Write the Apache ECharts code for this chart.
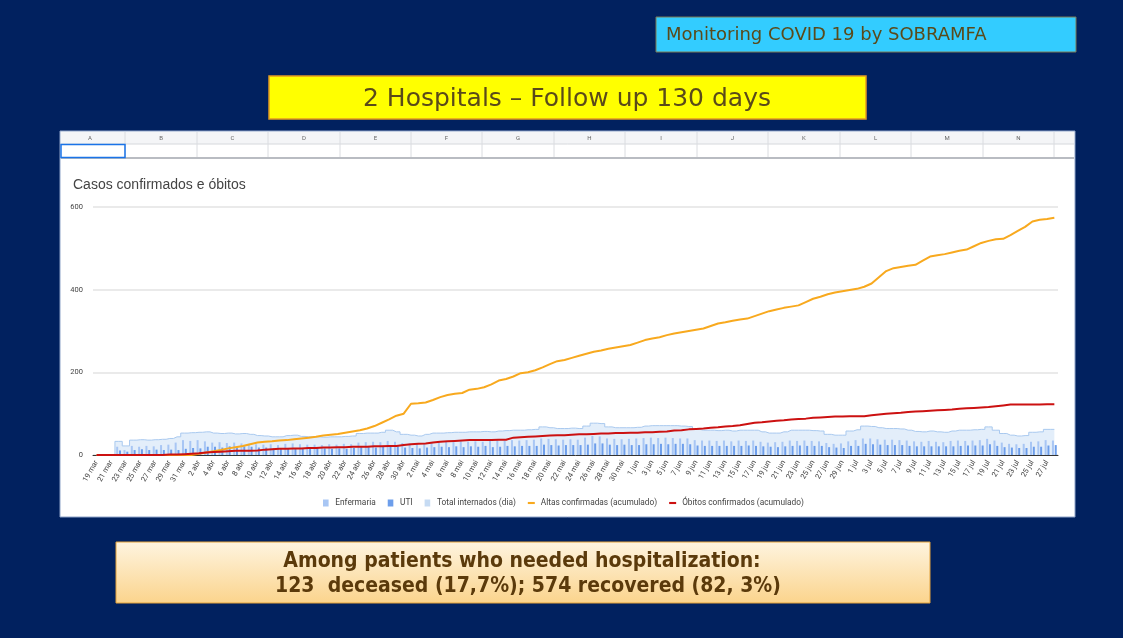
<!DOCTYPE html>
<html>
<head>
<meta charset="utf-8">
<script src="https://cdn.jsdelivr.net/npm/echarts@6/dist/echarts.min.js"></script>
<style>
  html, body { margin: 0; padding: 0; background: #01215f; }
  #main { width: 1123px; height: 638px; }
</style>
</head>
<body>
<div id="main"></div>
<script>
// months shown on the axis (19 mar .. 28 jul)
var months = [['mar', 19, 31], ['abr', 1, 30], ['mai', 1, 31], ['jun', 1, 30], ['jul', 1, 28]];
var days = [];
months.forEach(function (m) {
  for (var d = m[1]; d <= m[2]; d++) days.push(d + ' ' + m[0]);
});

var yTicks = [0, 200, 400, 600];
var sheetCols = ['A', 'B', 'C', 'D', 'E', 'F', 'G', 'H', 'I', 'J', 'K', 'L', 'M', 'N'];

var enfermaria = [0, 0, 0, 20, 12, 22, 20, 22, 21, 24, 25, 30, 36, 34, 36, 33, 30, 31, 29, 30,
  28, 27, 26, 25, 26, 24, 27, 28, 26, 25, 25, 24, 26, 25, 27, 26, 30, 31, 32, 31,
  34, 32, 29, 28, 27, 29, 31, 30, 32, 31, 33, 32, 33, 32, 34, 35, 34, 36, 35, 36,
  37, 40, 39, 38, 37, 38, 37, 42, 46, 45, 40, 39, 38, 39, 40, 41, 42, 41, 42, 41,
  40, 40, 36, 35, 35, 34, 35, 33, 35, 34, 35, 32, 30, 31, 32, 35, 34, 35, 34, 33,
  29, 27, 28, 33, 36, 40, 40, 38, 37, 37, 36, 35, 33, 32, 34, 32, 31, 34, 35, 34,
  35, 36, 39, 35, 30, 27, 26, 27, 32, 33, 36, 35];

var uti = [0, 0, 0, 11, 8, 12, 14, 12, 13, 12, 13, 12, 15, 17, 16, 20, 20, 18, 21, 18,
  21, 20, 18, 18, 16, 17, 17, 17, 16, 16, 17, 16, 15, 16, 15, 17, 19, 19, 18, 21,
  23, 21, 18, 17, 16, 18, 19, 20, 19, 21, 19, 21, 20, 22, 19, 20, 22, 21, 22, 22,
  22, 25, 24, 23, 24, 24, 24, 25, 28, 28, 25, 24, 25, 24, 24, 26, 26, 27, 26, 27,
  27, 26, 23, 22, 22, 22, 22, 22, 22, 23, 22, 21, 20, 19, 21, 22, 23, 22, 22, 22,
  19, 18, 17, 22, 22, 27, 26, 25, 24, 24, 24, 22, 21, 21, 21, 21, 21, 21, 22, 23,
  23, 23, 26, 22, 19, 18, 17, 17, 20, 20, 23, 24];

var totalInternados = [0, 0, 0, 33, 22, 36, 37, 36, 37, 38, 40, 44, 53, 54, 55, 56, 53, 52, 53, 51,
  52, 50, 47, 46, 44, 44, 47, 48, 45, 44, 44, 43, 44, 44, 45, 46, 52, 53, 53, 55,
  60, 56, 50, 48, 46, 50, 53, 53, 54, 55, 55, 56, 56, 57, 56, 58, 59, 60, 60, 61,
  62, 68, 66, 64, 64, 65, 64, 70, 77, 76, 68, 66, 66, 66, 67, 70, 71, 71, 71, 71,
  70, 69, 62, 60, 60, 59, 60, 58, 60, 60, 60, 56, 53, 53, 56, 60, 60, 60, 59, 58,
  50, 48, 48, 58, 61, 70, 69, 66, 64, 64, 63, 60, 57, 56, 58, 56, 55, 58, 60, 60,
  61, 62, 68, 60, 52, 48, 46, 47, 55, 56, 62, 62];

var altas = [0, 0, 0, 0, 0, 0, 0, 0, 0, 0, 0, 0, 0, 0, 3, 6, 9, 12, 16, 19,
  22, 26, 30, 32, 33, 35, 36, 38, 40, 42, 44, 47, 49, 51, 54, 57, 60, 64, 70, 78,
  86, 95, 100, 124, 125, 127, 133, 140, 145, 148, 150, 158, 160, 164, 171, 180, 184, 190, 198, 200,
  205, 212, 220, 227, 230, 235, 240, 245, 250, 253, 257, 260, 263, 266, 272, 278, 282, 285, 290, 294,
  297, 300, 303, 306, 312, 318, 321, 325, 328, 330, 336, 342, 348, 352, 356, 359, 362, 370, 378, 383,
  389, 393, 396, 399, 402, 407, 415, 430, 445, 452, 455, 458, 460, 470, 480, 483, 486, 490, 494, 497,
  505, 513, 518, 522, 523, 532, 542, 552, 565, 569, 571, 574];

var obitos = [0, 0, 0, 0, 0, 0, 0, 0, 0, 0, 1, 1, 2, 3, 4, 6, 7, 8, 9, 10,
  10, 10, 11, 13, 14, 15, 15, 16, 16, 17, 17, 18, 18, 19, 19, 20, 20, 20, 21, 21,
  22, 22, 24, 26, 27, 28, 30, 32, 33, 34, 35, 36, 36, 36, 36, 37, 37, 42, 43, 44,
  45, 46, 47, 48, 48, 49, 50, 50, 51, 52, 52, 53, 53, 54, 54, 55, 55, 56, 57, 59,
  60, 62, 63, 64, 66, 67, 69, 70, 72, 75, 78, 79, 81, 83, 84, 86, 87, 88, 90, 91,
  92, 93, 93, 94, 94, 94, 96, 98, 100, 101, 102, 104, 105, 106, 107, 108, 109, 110, 112, 113,
  114, 115, 116, 118, 120, 122, 122, 122, 122, 122, 123, 123];

var chart = echarts.init(document.getElementById('main'));

// spreadsheet strip above the chart
var colEdges = [55, 125, 197, 268, 340, 411, 482, 554, 625, 697, 768, 840, 911, 983, 1054];
var sheet = [
  { type: 'rect', shape: { x: 60, y: 131, width: 1015, height: 386 }, style: { fill: '#ffffff', stroke: '#8ea3c8', lineWidth: 1 } },
  { type: 'rect', shape: { x: 61, y: 132, width: 1013, height: 12 }, style: { fill: '#f4f5f7' } },
  { type: 'line', shape: { x1: 61, y1: 158, x2: 1074, y2: 158 }, style: { stroke: '#b9bcc2', lineWidth: 2 } },
  { type: 'line', shape: { x1: 61, y1: 144, x2: 1074, y2: 144 }, style: { stroke: '#d6d8dc', lineWidth: 1 } }
];
colEdges.slice(1).forEach(function (x) {
  sheet.push({ type: 'line', shape: { x1: x, y1: 132, x2: x, y2: 157 }, style: { stroke: '#dadce0', lineWidth: 1 } });
});
sheetCols.forEach(function (c, i) {
  sheet.push({
    type: 'text', x: (colEdges[i] + colEdges[i + 1]) / 2, y: 138,
    style: { text: c, fill: '#666', font: '6px Roboto', align: 'center', verticalAlign: 'middle' }
  });
});
sheet.push({ type: 'rect', shape: { x: 61, y: 144.5, width: 64, height: 13 }, style: { fill: 'none', stroke: '#1a73e8', lineWidth: 1.5 } });

var slide = [
  { type: 'rect', shape: { x: 656, y: 17, width: 420, height: 35 }, style: { fill: '#33ccff', stroke: '#7d7a55', lineWidth: 1 } },
  { type: 'text', x: 666, y: 35, style: { text: 'Monitoring COVID 19 by SOBRAMFA', fill: '#5a4a1a', font: '18px "DejaVu Sans"', verticalAlign: 'middle' } },
  { type: 'rect', shape: { x: 269, y: 76, width: 597, height: 43 }, style: { fill: '#ffff00', stroke: '#e39a22', lineWidth: 1.5 } },
  { type: 'text', x: 567, y: 99, style: { text: '2 Hospitals \u2013 Follow up 130 days', fill: '#5a4a1a', font: '25px "DejaVu Sans"', align: 'center', verticalAlign: 'middle' } },
  {
    type: 'rect', shape: { x: 116, y: 542, width: 814, height: 61 },
    style: {
      fill: new echarts.graphic.LinearGradient(0, 0, 0, 1, [{ offset: 0, color: '#fef4e0' }, { offset: 1, color: '#fbd48c' }]),
      stroke: '#e3a23a', lineWidth: 1
    }
  },
  { type: 'text', x: 522, y: 562, style: { text: 'Among patients who needed hospitalization:', fill: '#5b3a0b', font: 'bold 21px "DejaVu Sans Condensed"', align: 'center', verticalAlign: 'middle' } },
  { type: 'text', x: 528, y: 587, style: { text: '123  deceased (17,7%); 574 recovered (82, 3%)', fill: '#5b3a0b', font: 'bold 21px "DejaVu Sans Condensed"', align: 'center', verticalAlign: 'middle' } }
];

var lineIcon = 'path://M0,0L0,0M0,3.5H10V6.5H0ZM10,10L10,10';
var boxIcon = 'path://M1,0H9V10H1Z';

var option = {
  backgroundColor: '#01215f',
  animation: false,
  textStyle: { fontFamily: 'Roboto, "Liberation Sans", sans-serif' },
  title: {
    text: 'Casos confirmados e óbitos', left: 68, top: 173,
    textStyle: { fontSize: 14, fontWeight: 'normal', color: '#444', fontFamily: '"Liberation Sans", Arial' }
  },
  graphic: { elements: sheet.concat(slide) },
  legend: {
    left: 318, top: 494, itemWidth: 9, itemHeight: 7, itemGap: 12,
    textStyle: { fontSize: 8.3, color: '#444' },
    data: [
      { name: 'Enfermaria', icon: boxIcon },
      { name: 'UTI', icon: boxIcon },
      { name: 'Total internados (dia)', icon: boxIcon, itemStyle: { color: '#c6dbf3' } },
      { name: 'Altas confirmadas (acumulado)', icon: lineIcon },
      { name: 'Óbitos confirmados (acumulado)', icon: lineIcon }
    ]
  },
  grid: { left: 93, right: 65, top: 207, bottom: 183 },
  xAxis: {
    type: 'category', data: days, boundaryGap: true,
    axisLine: { lineStyle: { color: '#333', width: 1 } },
    axisTick: { show: false },
    axisLabel: { interval: 1, rotate: 60, fontSize: 7.5, color: '#444', margin: 6 }
  },
  yAxis: {
    type: 'value', min: yTicks[0], max: yTicks[yTicks.length - 1], interval: 200,
    axisLine: { show: false }, axisTick: { show: false },
    axisLabel: { fontSize: 7.5, color: '#444', margin: 10 },
    splitLine: { lineStyle: { color: '#e3e3e3', width: 1.5 } }
  },
  series: [
    {
      name: 'Total internados (dia)', type: 'line', step: 'middle', data: totalInternados, z: 1,
      symbol: 'none', lineStyle: { color: '#a9c9ef', width: 1 },
      areaStyle: { color: '#e3eefa', opacity: 1 }, itemStyle: { color: '#c6dbf3' }
    },
    {
      name: 'Enfermaria', type: 'bar', data: enfermaria, barWidth: 2, barGap: '40%', z: 2,
      itemStyle: { color: '#a8c6f4' }
    },
    {
      name: 'UTI', type: 'bar', data: uti, barWidth: 2, z: 2,
      itemStyle: { color: '#6d9eeb' }
    },
    {
      name: 'Altas confirmadas (acumulado)', type: 'line', data: altas, symbol: 'none', z: 4,
      lineStyle: { color: '#f8a91e', width: 2 }, itemStyle: { color: '#f8a91e' }
    },
    {
      name: 'Óbitos confirmados (acumulado)', type: 'line', data: obitos, symbol: 'none', z: 5,
      lineStyle: { color: '#cc1111', width: 2 }, itemStyle: { color: '#cc1111' }
    }
  ]
};

chart.setOption(option);
</script>
</body>
</html>
